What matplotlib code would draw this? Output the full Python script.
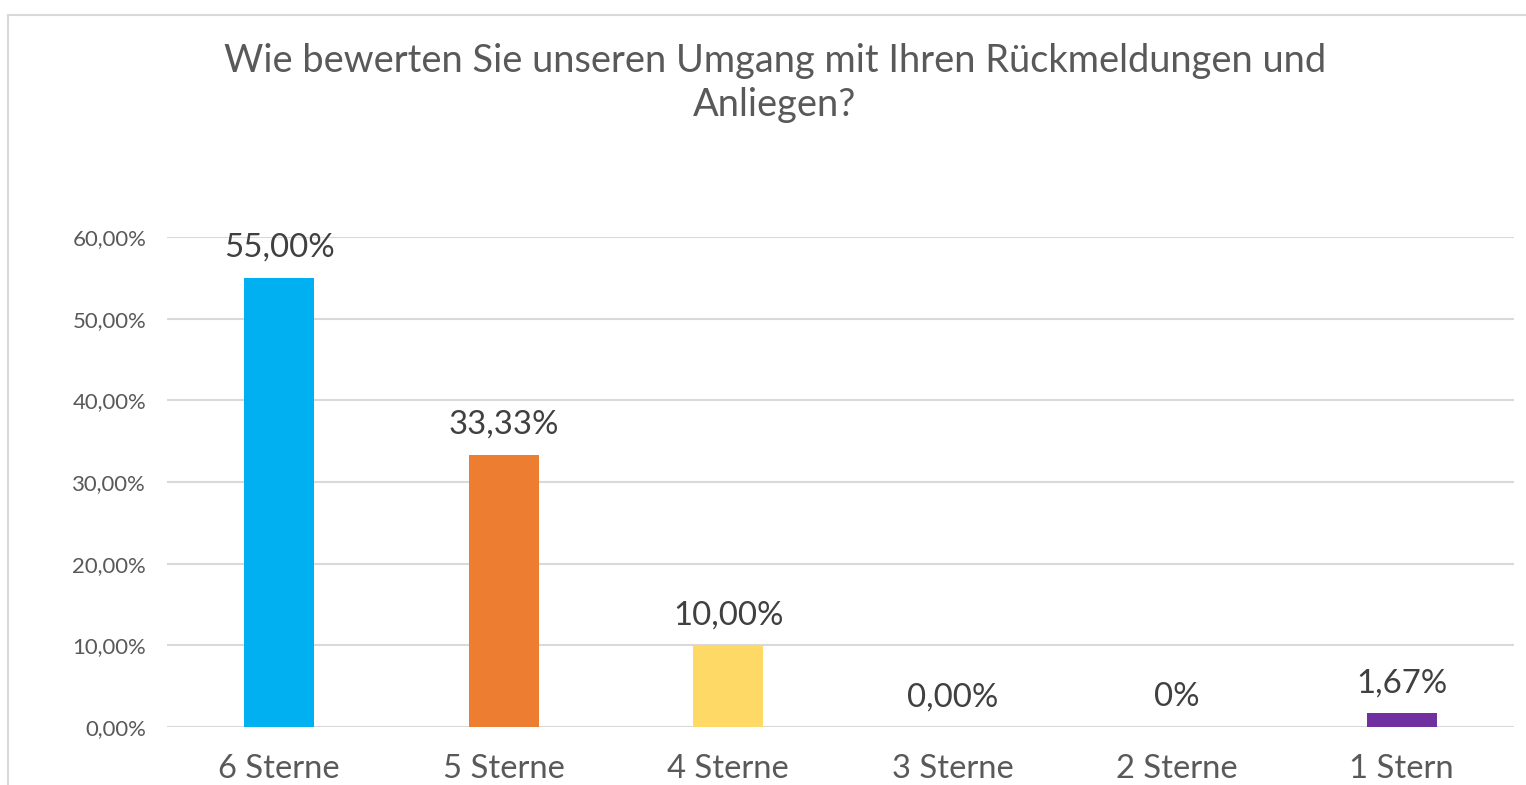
import matplotlib
matplotlib.use("Agg")
import matplotlib.pyplot as plt
from matplotlib.ticker import FuncFormatter

# Daten
kategorien = ["6 Sterne", "5 Sterne", "4 Sterne", "3 Sterne", "2 Sterne", "1 Stern"]
anteile = [0.55, 0.3333, 0.10, 0.0, 0.0, 0.0167]
beschriftungen = ["55,00%", "33,33%", "10,00%", "0,00%", "0%", "1,67%"]
farben = ["#00B0F0", "#ED7D31", "#FFD966", "#A5A5A5", "#5B9BD5", "#7030A0"]
y_ticks = [0.0, 0.1, 0.2, 0.3, 0.4, 0.5, 0.6]

plt.rcParams['font.family'] = ['Lato', 'DejaVu Sans']

fig = plt.figure(figsize=(15.26, 7.85), dpi=100)
ax = fig.add_axes([167/1526, 1 - 727/785, (1514 - 167)/1526, (727 - 237)/785])

x = list(range(len(kategorien)))
ax.bar(x, anteile, width=0.31, color=farben, zorder=3)

for xi, wert, text in zip(x, anteile, beschriftungen):
    ax.annotate(text, (xi, wert), xytext=(0, 21.5), textcoords="offset points",
                ha="center", va="center", fontsize=23.8, color="#404040")

ax.set_xlim(-0.5, len(kategorien) - 0.5)
ax.set_ylim(0, 0.6)
ax.set_yticks(y_ticks)
ax.yaxis.set_major_formatter(FuncFormatter(lambda v, p: f"{v*100:.2f}%".replace(".", ",")))
ax.set_xticks(x)
ax.set_xticklabels(kategorien, fontsize=23.6, color="#595959")
ax.tick_params(axis="y", labelsize=15.9, labelcolor="#595959", length=0, pad=15)
ax.tick_params(axis="x", length=0, pad=19.5)
ax.grid(axis="y", color="#D9D9D9", linewidth=1.5, zorder=0)
for s in ax.spines.values():
    s.set_visible(False)

fig.text(775/1526, 1 - 83/785, "Wie bewerten Sie unseren Umgang mit Ihren Rückmeldungen und\nAnliegen?",
         ha="center", va="center", fontsize=27.4, color="#595959",
         linespacing=1.3)

# Rahmen des Diagrammbereichs
fig.add_artist(plt.Line2D([8/1526, 8/1526], [0, 1 - 15/785], color="#D9D9D9", linewidth=1.5))
fig.add_artist(plt.Line2D([8/1526, 1], [1 - 15/785, 1 - 15/785], color="#D9D9D9", linewidth=1.5))

fig.savefig("out.png", dpi=100, facecolor="white")
